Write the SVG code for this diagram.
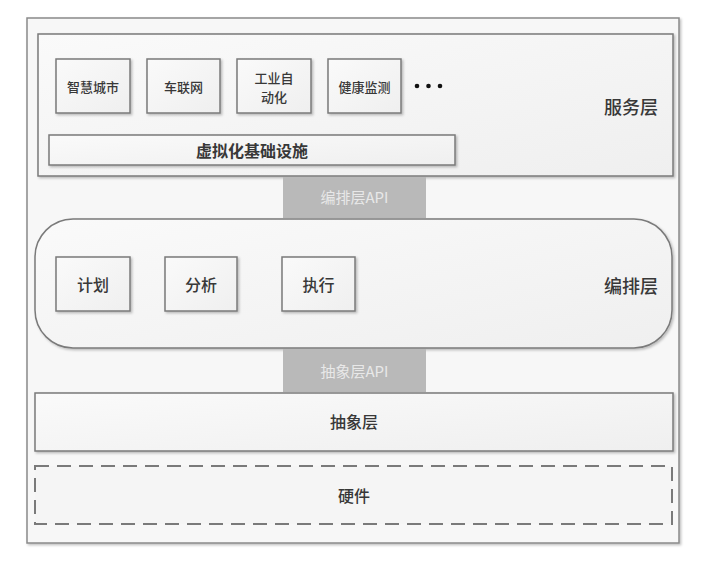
<svg xmlns="http://www.w3.org/2000/svg" width="709" height="566" viewBox="0 0 709 566">
<defs>
<filter id="sh" x="-10%" y="-10%" width="130%" height="130%">
<feDropShadow dx="1.5" dy="1.5" stdDeviation="1" flood-color="#000" flood-opacity="0.25"/>
</filter>
<linearGradient id="g" x1="0" y1="0" x2="1" y2="1">
<stop offset="0" stop-color="#fafafa"/>
<stop offset="1" stop-color="#efefef"/>
</linearGradient>
</defs>
<style>
.box{fill:url(#g);stroke:#7a7a7a;stroke-width:1.5;filter:url(#sh)}
.api{fill:#b9b9b9;stroke:none}
.t{font-family:"Noto Sans CJK SC","Liberation Sans",sans-serif;fill:#383838;text-anchor:middle;dominant-baseline:central;font-weight:500}
.s{font-size:13px}
.m{font-size:16px}
.l{font-size:18px}
.b{font-weight:700}
.at{font-family:"Noto Sans CJK SC","Liberation Sans",sans-serif;font-size:15px;fill:#e8e8e8;text-anchor:middle;dominant-baseline:central}
</style>
<rect width="709" height="566" fill="#ffffff"/>
<g id="frame"><rect x="27" y="18" width="652" height="525" fill="#f7f7f7" stroke="#8a8a8a" stroke-width="1.5" filter="url(#sh)"/></g>

<g id="service-layer">
<rect class="box" x="38" y="34" width="635" height="142"/>
<text class="t l" x="631" y="106">服务层</text>
</g>
<g id="smart-city"><rect class="box" x="56" y="59" width="74" height="54"/><text class="t s" x="93" y="86">智慧城市</text></g>
<g id="iov"><rect class="box" x="147" y="59" width="73" height="54"/><text class="t s" x="183.5" y="86">车联网</text></g>
<g id="industry"><rect class="box" x="237" y="59" width="74" height="54"/><text class="t s" x="274" y="77">工业自</text><text class="t s" x="274" y="96">动化</text></g>
<g id="health"><rect class="box" x="328" y="59" width="73" height="54"/><text class="t s" x="364.5" y="86">健康监测</text></g>
<g id="dots"><circle cx="417" cy="86" r="2.3" fill="#111"/><circle cx="428.5" cy="86" r="2.3" fill="#111"/><circle cx="440" cy="86" r="2.3" fill="#111"/></g>
<g id="virtual-infra"><rect class="box" x="49" y="135" width="406" height="30"/><text class="t m b" x="252" y="150">虚拟化基础设施</text></g>

<g id="orch-api"><rect class="api" x="283" y="177" width="143" height="41"/><text class="at" x="354.5" y="196">编排层API</text></g>

<g id="orch-layer">
<rect class="box" x="35" y="219" width="637" height="129" rx="38" ry="38"/>
<text class="t l" x="631" y="285">编排层</text>
</g>
<g id="plan"><rect class="box" x="56" y="257" width="74" height="54"/><text class="t m" x="93" y="284">计划</text></g>
<g id="analyze"><rect class="box" x="165" y="257" width="72" height="54"/><text class="t m" x="201" y="284">分析</text></g>
<g id="execute"><rect class="box" x="282" y="257" width="73" height="54"/><text class="t m" x="318.5" y="284">执行</text></g>

<g id="abs-api"><rect class="api" x="283" y="349" width="143" height="43"/><text class="at" x="354.5" y="370">抽象层API</text></g>

<g id="abs-layer"><rect class="box" x="35" y="393" width="638" height="58"/><text class="t m" x="354" y="421">抽象层</text></g>
<g id="hardware"><rect x="35" y="466" width="637" height="58" fill="#f5f5f5" stroke="#7a7a7a" stroke-width="2" stroke-dasharray="14,8"/><text class="t m" x="354" y="495">硬件</text></g>
<g id="connectors"></g>
</svg>
